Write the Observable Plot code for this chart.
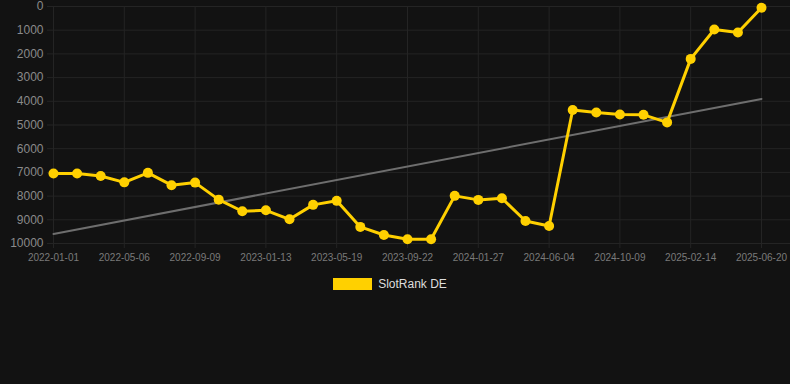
<!DOCTYPE html>
<html>
<head>
<meta charset="utf-8">
<script src="https://cdn.jsdelivr.net/npm/d3@7"></script>
<script src="https://cdn.jsdelivr.net/npm/@observablehq/plot@0.6"></script>
<style>
  html, body { margin: 0; padding: 0; background: #121212; }
  body { width: 790px; height: 384px; overflow: hidden; font-family: "Liberation Sans", Arial, sans-serif; }
  #legend { display: flex; justify-content: center; align-items: center; margin-top: 8px; height: 12px; color: #dddddd; font-size: 12px; padding-right: 10px; }
  #legend .sw { width: 39px; height: 12px; background: #FFD000; margin-right: 6px; }
</style>
</head>
<body>
<div id="chart"></div>
<div id="legend"><span class="sw"></span><span>SlotRank DE</span></div>
<script>
const dates = [
  "2022-01-01","2022-02-12","2022-03-25","2022-05-06","2022-06-17","2022-07-29",
  "2022-09-09","2022-10-21","2022-12-02","2023-01-13","2023-02-24","2023-04-07",
  "2023-05-19","2023-06-30","2023-08-11","2023-09-22","2023-11-03","2023-12-15",
  "2024-01-27","2024-03-09","2024-04-22","2024-06-04","2024-07-16","2024-08-27",
  "2024-10-09","2024-11-20","2025-01-02","2025-02-14","2025-03-28","2025-05-09",
  "2025-06-20"
];
const ranks = [
  7050, 7050, 7150, 7420, 7020, 7540,
  7430, 8150, 8640, 8600, 8980, 8370,
  8200, 9300, 9640, 9820, 9820, 7990,
  8160, 8090, 9050, 9260, 4370, 4470,
  4560, 4570, 4890, 2210, 970, 1100,
  50
];
const tickDates = [
  "2022-01-01","2022-05-06","2022-09-09","2023-01-13","2023-05-19","2023-09-22",
  "2024-01-27","2024-06-04","2024-10-09","2025-02-14","2025-06-20"
];
const yTicks = [0,1000,2000,3000,4000,5000,6000,7000,8000,9000,10000];
const trendDates = ["2022-01-01","2025-06-20"];
const trendValues = [9600, 3900];

const series = dates.map((d, i) => ({date: d, rank: ranks[i]}));
const trend = trendDates.map((d, i) => ({date: d, rank: trendValues[i]}));

const gridColor = "#242424";
const chart = Plot.plot({
  width: 790,
  height: 270,
  marginLeft: 47,
  marginRight: 0,
  marginTop: 6,
  marginBottom: 27,
  style: {background: "#121212", fontFamily: "'Liberation Sans', Arial, sans-serif", overflow: "visible"},
  x: {type: "point", domain: dates, padding: 0, round: false, range: [53, 761], label: null},
  y: {domain: [0, 10000], reverse: true, label: null},
  marks: [
    Plot.ruleY(yTicks, {stroke: gridColor, strokeWidth: 1}),
    Plot.ruleX(tickDates, {stroke: gridColor, strokeWidth: 1, y1: 0, y2: 10000}),
    Plot.axisY({ticks: yTicks, tickFormat: d => String(d), tickSize: 0, tickPadding: 4, fontSize: 12, fill: "#8a8a8a", label: null}),
    Plot.axisX({ticks: tickDates, tickSize: 5, stroke: gridColor, tickPadding: 5, fontSize: 10, fill: "#7a7a7a", label: null}),
    Plot.line(trend, {x: "date", y: "rank", stroke: "#6e6e6e", strokeWidth: 2}),
    Plot.line(series, {x: "date", y: "rank", stroke: "#FFD000", strokeWidth: 3, curve: "linear"}),
    Plot.dot(series, {x: "date", y: "rank", r: 5, fill: "#FFD000", stroke: "none"})
  ]
});
document.getElementById("chart").appendChild(chart);
</script>
</body>
</html>
